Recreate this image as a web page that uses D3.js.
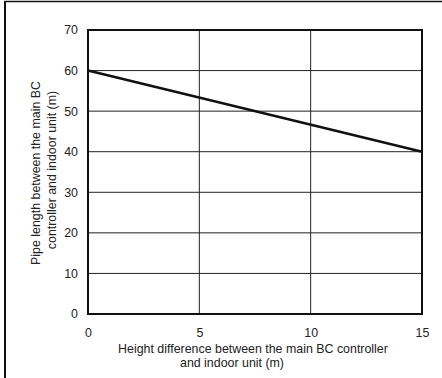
<!DOCTYPE html>
<html>
<head>
<meta charset="utf-8">
<script src="https://cdn.jsdelivr.net/npm/d3@7"></script>
<style>
  body { margin: 0; background: #fff; }
  text { font-family: "Liberation Sans", Arial, sans-serif; fill: #222; }
</style>
</head>
<body>
<div id="chart"></div>
<script>
// data
const heightDiff = [0, 15];
const pipeLength = [60, 40];
const xTicks = [0, 5, 10, 15];
const yTicks = [0, 10, 20, 30, 40, 50, 60, 70];
const xTitle = ["Height difference between the main BC controller", "and indoor unit (m)"];
const yTitle = ["Pipe length between the main BC", "controller and indoor unit (m)"];

const W = 442, H = 378;
const fs = "12.4px";
const margin = {top: 30, right: 20, bottom: 64, left: 88},
    width = 422 - margin.left,
    height = 314 - margin.top;

const root = d3.select("#chart")
  .append("svg")
    .attr("width", W)
    .attr("height", H);

// outer frame (top + left only)
root.append("line")
  .attr("x1", 4.5).attr("x2", W).attr("y1", 1.5).attr("y2", 1.5)
  .attr("stroke", "#111").attr("stroke-width", 1.5);
root.append("line")
  .attr("x1", 5).attr("x2", 5).attr("y1", 1).attr("y2", H)
  .attr("stroke", "#111").attr("stroke-width", 2);

const svg = root.append("g")
  .attr("transform", `translate(${margin.left}, ${margin.top})`);

const x = d3.scaleLinear().domain([0, 15]).range([0, width]);
const y = d3.scaleLinear().domain([0, 70]).range([height, 0]);

// grid
svg.append("g")
  .selectAll("line")
  .data(xTicks.slice(1, -1))
  .enter().append("line")
    .attr("x1", d => x(d)).attr("x2", d => x(d))
    .attr("y1", 0).attr("y2", height)
    .attr("stroke", "#222").attr("stroke-width", 1);
svg.append("g")
  .selectAll("line")
  .data(yTicks.slice(1, -1))
  .enter().append("line")
    .attr("x1", 0).attr("x2", width)
    .attr("y1", d => y(d)).attr("y2", d => y(d))
    .attr("stroke", "#222").attr("stroke-width", 1);

// X axis labels
const xAxis = svg.append("g")
  .attr("transform", `translate(0, ${height})`)
  .call(d3.axisBottom(x).tickValues(xTicks).tickSize(0).tickPadding(14));
xAxis.select(".domain").remove();
xAxis.selectAll("text").style("font-size", fs).attr("fill", "#222")
  .style("font-family", "'Liberation Sans', Arial, sans-serif");

// Y axis labels
const yAxis = svg.append("g")
  .call(d3.axisLeft(y).tickValues(yTicks).tickSize(0).tickPadding(10));
yAxis.select(".domain").remove();
yAxis.selectAll("text").style("font-size", fs).attr("fill", "#222")
  .style("font-family", "'Liberation Sans', Arial, sans-serif");

// plot frame
svg.append("rect")
  .attr("x", x(0)).attr("y", y(70))
  .attr("width", x(15) - x(0)).attr("height", y(0) - y(70))
  .attr("fill", "none").attr("stroke", "#111").attr("stroke-width", 2);

// data line
const line = d3.line()
  .x((d, i) => x(heightDiff[i]))
  .y(d => y(d));
svg.append("path")
  .datum(pipeLength)
  .attr("d", line)
  .attr("fill", "none")
  .attr("stroke", "#111")
  .attr("stroke-width", 2.5);

// axis titles
root.append("text")
  .attr("x", 253).attr("y", 353)
  .attr("text-anchor", "middle").style("font-size", fs)
  .text(xTitle[0]);
root.append("text")
  .attr("x", 232).attr("y", 367)
  .attr("text-anchor", "middle").style("font-size", fs)
  .text(xTitle[1]);

root.append("text")
  .attr("transform", "translate(40, 173) rotate(-90)")
  .attr("text-anchor", "middle").style("font-size", fs)
  .text(yTitle[0]);
root.append("text")
  .attr("transform", "translate(56, 170) rotate(-90)")
  .attr("text-anchor", "middle").style("font-size", fs)
  .text(yTitle[1]);
</script>
</body>
</html>
